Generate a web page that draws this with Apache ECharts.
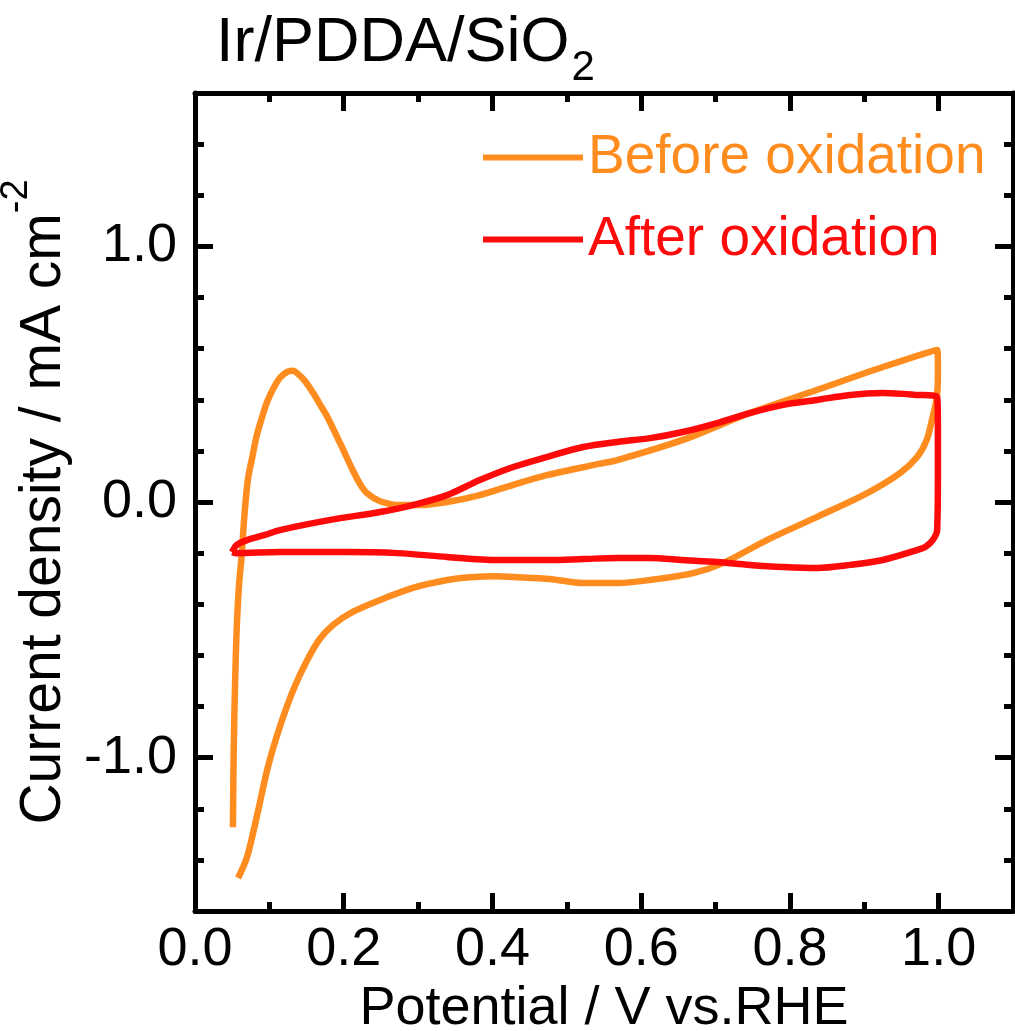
<!DOCTYPE html>
<html>
<head>
<meta charset="utf-8">
<script src="https://cdn.jsdelivr.net/npm/echarts@6/dist/echarts.min.js"></script>
<style>
  html, body { margin: 0; padding: 0; background: #fff; }
  #cv_chart { width: 1015px; height: 1031px; }
</style>
</head>
<body>
<div id="cv_chart"></div>
<script>
// potential (V vs. RHE) and current density (mA cm-2)
var before_x = [0.051, 0.052, 0.054, 0.056, 0.059, 0.063, 0.066, 0.071, 0.077, 0.083, 0.090, 0.097, 0.105, 0.114, 0.124, 0.132, 0.137, 0.148, 0.159, 0.168, 0.178, 0.195, 0.212, 0.222, 0.231, 0.249, 0.276, 0.303, 0.339, 0.383, 0.428, 0.473, 0.545, 0.568, 0.656, 0.746, 0.836, 0.925, 0.998,
                0.999, 0.999, 0.997, 0.992, 0.984, 0.971, 0.948, 0.904, 0.836, 0.769, 0.710, 0.670, 0.612, 0.568, 0.522, 0.477, 0.428, 0.406, 0.370, 0.339, 0.293, 0.249, 0.212, 0.186, 0.168, 0.151, 0.132, 0.114, 0.098, 0.083, 0.070, 0.058];
var before_y = [-1.272, -0.982, -0.696, -0.501, -0.333, -0.200, -0.070, 0.086, 0.175, 0.260, 0.330, 0.392, 0.442, 0.485, 0.509, 0.513, 0.505, 0.473, 0.426, 0.382, 0.333, 0.231, 0.125, 0.070, 0.035, 0.003, -0.012, -0.012, 0.000, 0.027, 0.067, 0.105, 0.150, 0.164, 0.243, 0.348, 0.438, 0.528, 0.595,
                0.536, 0.477, 0.399, 0.333, 0.243, 0.176, 0.113, 0.035, -0.059, -0.149, -0.239, -0.278, -0.305, -0.317, -0.317, -0.301, -0.293, -0.290, -0.294, -0.305, -0.336, -0.383, -0.430, -0.480, -0.535, -0.618, -0.736, -0.880, -1.037, -1.232, -1.389, -1.471];

var after_x = [0.050, 0.056, 0.070, 0.094, 0.114, 0.182, 0.249, 0.293, 0.339, 0.383, 0.428, 0.473, 0.522, 0.568, 0.612, 0.656, 0.702, 0.746, 0.791, 0.836, 0.881, 0.925, 0.971, 0.998,
               0.999, 0.999, 0.998, 0.992, 0.982, 0.971, 0.925, 0.881, 0.836, 0.791, 0.746, 0.702, 0.656, 0.612, 0.568, 0.522, 0.477, 0.406, 0.339, 0.272, 0.204, 0.114, 0.056, 0.050];
var after_y = [-0.196, -0.168, -0.149, -0.129, -0.110, -0.070, -0.039, -0.012, 0.027, 0.086, 0.137, 0.176, 0.215, 0.235, 0.250, 0.274, 0.309, 0.348, 0.380, 0.399, 0.419, 0.426, 0.419, 0.411,
               0.282, 0.113, -0.110, -0.149, -0.176, -0.188, -0.227, -0.246, -0.258, -0.254, -0.246, -0.235, -0.227, -0.219, -0.219, -0.223, -0.227, -0.227, -0.215, -0.200, -0.196, -0.196, -0.200, -0.196];

var series_names = ['Before oxidation', 'After oxidation'];
var x_labels = [0, 0.2, 0.4, 0.6, 0.8, 1.0];
var x_major = [0.2, 0.4, 0.6, 0.8, 1.0];
var y_labels = [-1.0, 0.0, 1.0];

var FONT = "'Liberation Sans', Arial, Helvetica, sans-serif";
var ORANGE = '#ff8c1e';
var RED = '#ff0a0a';

function pairs(xs, ys) {
  var out = [];
  for (var i = 0; i < xs.length; i++) out.push([xs[i], ys[i]]);
  return out;
}

function fmt(v) { return Number(v).toFixed(1); }

function draw_cv() {
  var dom = document.getElementById('cv_chart');
  var myChart = echarts.init(dom, null, { renderer: 'canvas' });

  var black = { color: '#000', width: 5 };
  var xBase = { type: 'value', min: 0, max: 1.1, interval: 0.1, splitLine: { show: false } };
  var yBase = { type: 'value', min: -1.6, max: 1.6, interval: 0.2, splitLine: { show: false } };

  var option = {
    animation: false,
    backgroundColor: '#fff',
    title: {
      text: '{a|Ir/PDDA/SiO}{b|2}',
      left: 211,
      top: 7,
      textStyle: {
        rich: {
          a: { fontFamily: FONT, fontSize: 63, fontWeight: 'normal', color: '#000', lineHeight: 63, verticalAlign: 'top' },
          b: { fontFamily: FONT, fontSize: 42, fontWeight: 'normal', color: '#000', lineHeight: 42, padding: [35, 0, 0, 2], verticalAlign: 'top' }
        }
      }
    },
    legend: {
      orient: 'vertical',
      left: 478,
      top: 125,
      icon: 'rect',
      itemWidth: 100,
      itemHeight: 6,
      itemGap: 27,
      textStyle: { fontFamily: FONT, fontSize: 55 },
      data: [
        { name: series_names[0], textStyle: { color: ORANGE } },
        { name: series_names[1], textStyle: { color: RED } }
      ]
    },
    grid: { left: 195, top: 93, width: 818, height: 818, outerBoundsMode: 'none' },
    xAxis: [
      Object.assign({}, xBase, {
        position: 'bottom',
        axisLine: { show: true, onZero: false, lineStyle: black },
        axisTick: { inside: true, length: 9, lineStyle: black },
        axisLabel: { customValues: x_labels, formatter: fmt, fontFamily: FONT, fontSize: 54, color: '#000', margin: 12 },
        name: 'Potential / V vs.RHE',
        nameLocation: 'middle',
        nameGap: 70,
        nameTextStyle: { fontFamily: FONT, fontSize: 54, color: '#000' }
      }),
      Object.assign({}, xBase, {
        position: 'bottom',
        axisLine: { show: false, onZero: false },
        axisTick: { inside: true, length: 18, customValues: x_major, lineStyle: black },
        axisLabel: { show: false }
      }),
      Object.assign({}, xBase, {
        position: 'top',
        axisLine: { show: true, onZero: false, lineStyle: black },
        axisTick: { inside: true, length: 9, lineStyle: black },
        axisLabel: { show: false }
      }),
      Object.assign({}, xBase, {
        position: 'top',
        axisLine: { show: false, onZero: false },
        axisTick: { inside: true, length: 18, customValues: x_major, lineStyle: black },
        axisLabel: { show: false }
      })
    ],
    yAxis: [
      Object.assign({}, yBase, {
        position: 'left',
        axisLine: { show: true, onZero: false, lineStyle: black },
        axisTick: { inside: true, length: 9, lineStyle: black },
        axisLabel: { customValues: y_labels, formatter: fmt, fontFamily: FONT, fontSize: 54, color: '#000', margin: 18 },
        name: '{a|Current density / mA cm}{b|-2}',
        nameLocation: 'middle',
        nameGap: 110,
        nameTextStyle: {
          rich: {
            a: { fontFamily: FONT, fontSize: 57, color: '#000', lineHeight: 76, verticalAlign: 'bottom' },
            b: { fontFamily: FONT, fontSize: 38, color: '#000', lineHeight: 38, verticalAlign: 'top' }
          }
        }
      }),
      Object.assign({}, yBase, {
        position: 'left',
        axisLine: { show: false, onZero: false },
        axisTick: { inside: true, length: 18, customValues: y_labels, lineStyle: black },
        axisLabel: { show: false }
      }),
      Object.assign({}, yBase, {
        position: 'right',
        axisLine: { show: true, onZero: false, lineStyle: black },
        axisTick: { inside: true, length: 9, lineStyle: black },
        axisLabel: { show: false }
      }),
      Object.assign({}, yBase, {
        position: 'right',
        axisLine: { show: false, onZero: false },
        axisTick: { inside: true, length: 18, customValues: y_labels, lineStyle: black },
        axisLabel: { show: false }
      })
    ],
    series: [
      {
        name: series_names[0],
        type: 'line',
        xAxisIndex: 0,
        yAxisIndex: 0,
        data: pairs(before_x, before_y),
        showSymbol: false,
        smooth: 0.3,
        color: ORANGE,
        lineStyle: { width: 6.5, color: ORANGE }
      },
      {
        name: series_names[1],
        type: 'line',
        xAxisIndex: 0,
        yAxisIndex: 0,
        data: pairs(after_x, after_y),
        showSymbol: false,
        smooth: 0.3,
        color: RED,
        lineStyle: { width: 6.5, color: RED }
      }
    ]
  };

  if (option && typeof option === 'object') {
    myChart.setOption(option);
  }

  window.addEventListener('resize', myChart.resize);
}

draw_cv();
</script>
</body>
</html>
